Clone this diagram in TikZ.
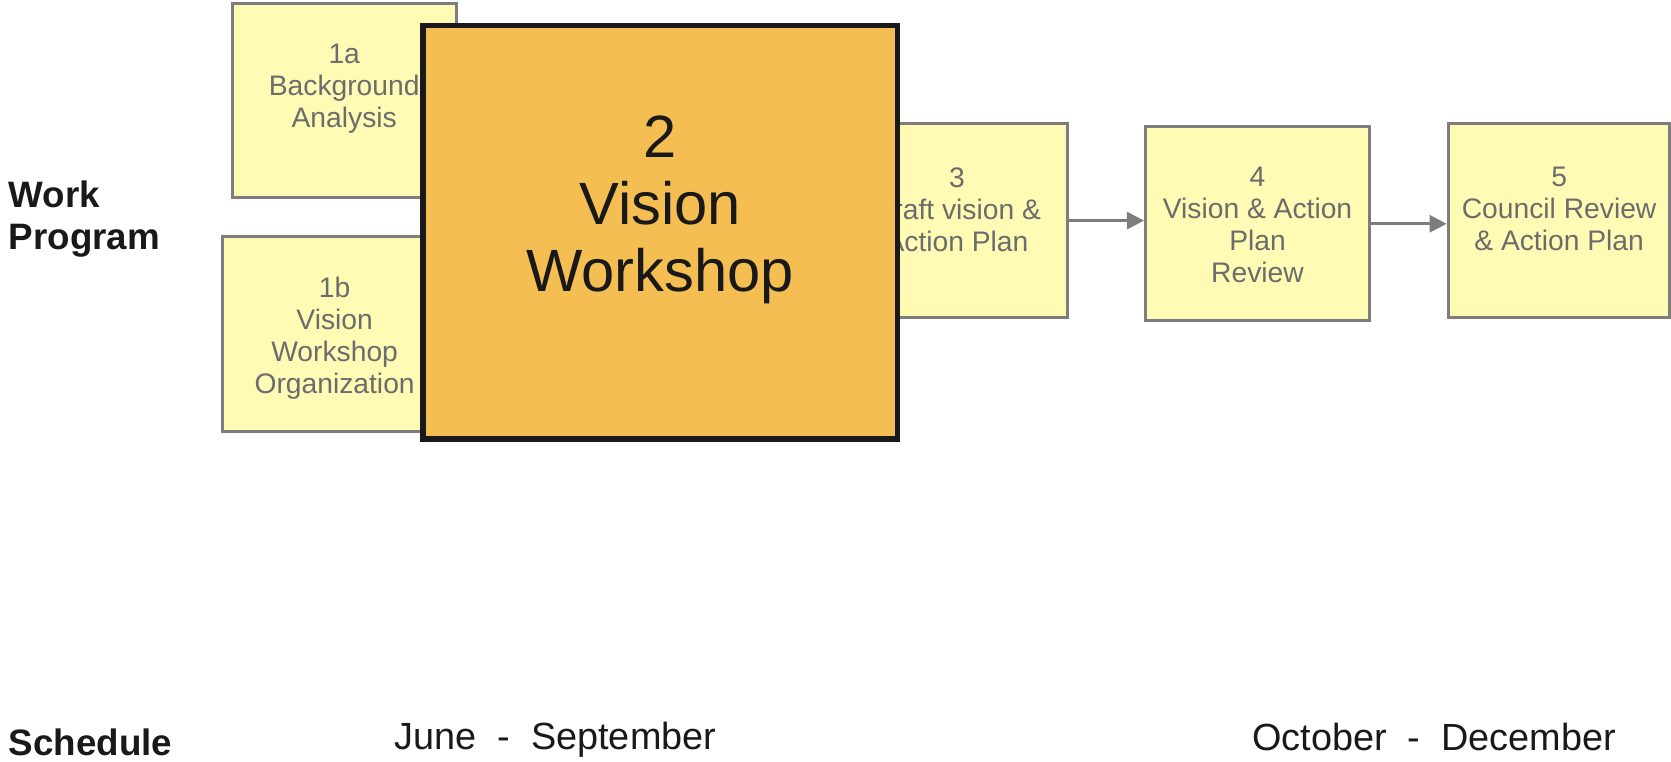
\documentclass[tikz,border=0pt]{standalone}
\usepackage{fontspec}
\setmainfont{Liberation Sans}
\usetikzlibrary{arrows.meta}
\definecolor{boxfill}{RGB}{255,250,180}
\definecolor{boxline}{RGB}{125,125,125}
\definecolor{boxtext}{RGB}{108,108,108}
\definecolor{orangefill}{RGB}{244,190,82}
\definecolor{darktext}{RGB}{25,25,25}
\begin{document}
\begin{tikzpicture}[x=1pt,y=-1pt,
  task/.style={draw=boxline, line width=3pt, fill=boxfill, rectangle, inner sep=0pt,
    minimum width=210pt, minimum height=182pt},
  tasktext/.style={text=boxtext, font=\fontsize{26.5}{30}\selectfont, align=center, inner sep=0pt},
  bigtask/.style={draw=black!90, line width=5pt, fill=orangefill, rectangle, inner sep=0pt,
    minimum width=445pt, minimum height=388pt},
  bigtext/.style={text=darktext, font=\fontsize{56}{63}\selectfont, align=center, inner sep=0pt},
  rowlabel/.style={font=\bfseries\fontsize{34.5}{39}\selectfont, align=left, inner sep=0pt, anchor=west, text=darktext},
  period/.style={font=\fontsize{35.5}{39}\selectfont, inner sep=0pt, anchor=west, text=darktext},
  arr/.style={draw=boxline, line width=2.5pt, -{Triangle[length=16pt,width=16pt]}}
]
\useasboundingbox (0,0) rectangle (1568,715);

% lower-layer boxes
\node[task] (b1a) at (323,94) {};
\node[tasktext] (t1a) at (323,83) {1a\\Background\\Analysis};
\node[task, minimum height=183pt] (b1b) at (314,313.5) {};
\node[tasktext] (t1b) at (314,317) {1b\\Vision\\Workshop\\Organization};
\node[task] (b3) at (897,207) {};
\node[tasktext] (t3) at (898,197) {3\\Draft vision \&\\Action Plan};

% central box
\node[bigtask] (b2) at (619.5,218) {};
\node[bigtext] (t2) at (619.5,197) {2\\Vision\\Workshop};

% right boxes
\node[task] (b4) at (1180,210) {};
\node[tasktext] (t4) at (1180,211) {4\\Vision \& Action\\Plan\\Review};
\node[task, minimum width=208pt] (b5) at (1463,207) {};
\node[tasktext] (t5) at (1463,196) {5\\Council Review\\\& Action Plan};

% connectors
\draw[arr] (b3.east) -- (b3.east -| b4.west);
\draw[arr] (b4.east) -- (b4.east -| b5.west);

% labels
\node[rowlabel] (work) at (8,205.5) {Work\\Program};
\node[rowlabel] (sched) at (8,697) {Schedule};
\node[period] (p1) at (370,694) {June\ \ -\ \ September};
\node[period] (p2) at (1175,692) {October\ \ -\ \ December};
\end{tikzpicture}
\end{document}
